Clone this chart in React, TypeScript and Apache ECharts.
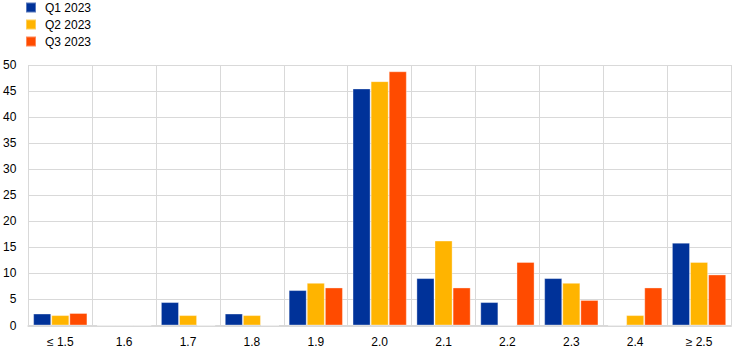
import React, { useEffect, useRef } from "react";
import * as echarts from "echarts";

const categories = ["≤ 1.5", "1.6", "1.7", "1.8", "1.9", "2.0", "2.1", "2.2", "2.3", "2.4", "≥ 2.5"];
const q1_2023 = [2.3, 0, 4.5, 2.3, 6.8, 45.5, 9.1, 4.5, 9.1, 0, 15.9];
const q2_2023 = [2.0, 0, 2.0, 2.0, 8.2, 46.9, 16.3, 0, 8.2, 2.0, 12.2];
const q3_2023 = [2.4, 0, 0, 0, 7.3, 48.8, 7.3, 12.2, 4.9, 7.3, 9.8];
const seriesNames = ["Q1 2023", "Q2 2023", "Q3 2023"];
const colors = ["#003299", "#FFB400", "#FF4B00"];

export default function App() {
  const ref = useRef<HTMLDivElement>(null);
  useEffect(() => {
    if (!ref.current) return;
    const chart = echarts.init(ref.current, null, { renderer: "svg" });
    const data = [q1_2023, q2_2023, q3_2023];
    chart.setOption({
      animation: false,
      textStyle: { fontFamily: "Liberation Sans, Arial, sans-serif" },
      legend: {
        orient: "vertical",
        left: 25,
        top: 1.5,
        padding: 0,
        itemWidth: 10,
        itemHeight: 10,
        itemGap: 5,
        icon: "rect",
        textStyle: { fontSize: 12, color: "#000", padding: [0, 0, 0, 4] },
        data: seriesNames,
      },
      grid: { left: 28, right: 13, top: 65, bottom: 30.5, containLabel: false },
      xAxis: {
        type: "category",
        data: categories,
        axisTick: { show: false },
        axisLine: { lineStyle: { color: "#d9d9d9", width: 2 } },
        axisLabel: { color: "#000", fontSize: 12, margin: 10 },
        splitLine: { show: true, lineStyle: { color: "#d9d9d9", width: 1 } },
      },
      yAxis: {
        type: "value",
        min: 0,
        max: 50,
        interval: 5,
        axisLabel: { color: "#000", fontSize: 12, margin: 12 },
        axisLine: { show: false },
        axisTick: { show: false },
        splitLine: { lineStyle: { color: "#d9d9d9", width: 1 } },
      },
      series: data.map((d, i) => ({
        name: seriesNames[i],
        type: "bar",
        data: d,
        barGap: "0%",
        barCategoryGap: "15%",
        itemStyle: {
          color: colors[i],
          borderColor: "rgba(255,255,255,0.35)",
          borderWidth: 1,
        },
      })),
    });
    return () => chart.dispose();
  }, []);
  return (
    <div
      ref={ref}
      style={{ position: "absolute", left: 0, top: 0, width: 744, height: 356 }}
    />
  );
}
